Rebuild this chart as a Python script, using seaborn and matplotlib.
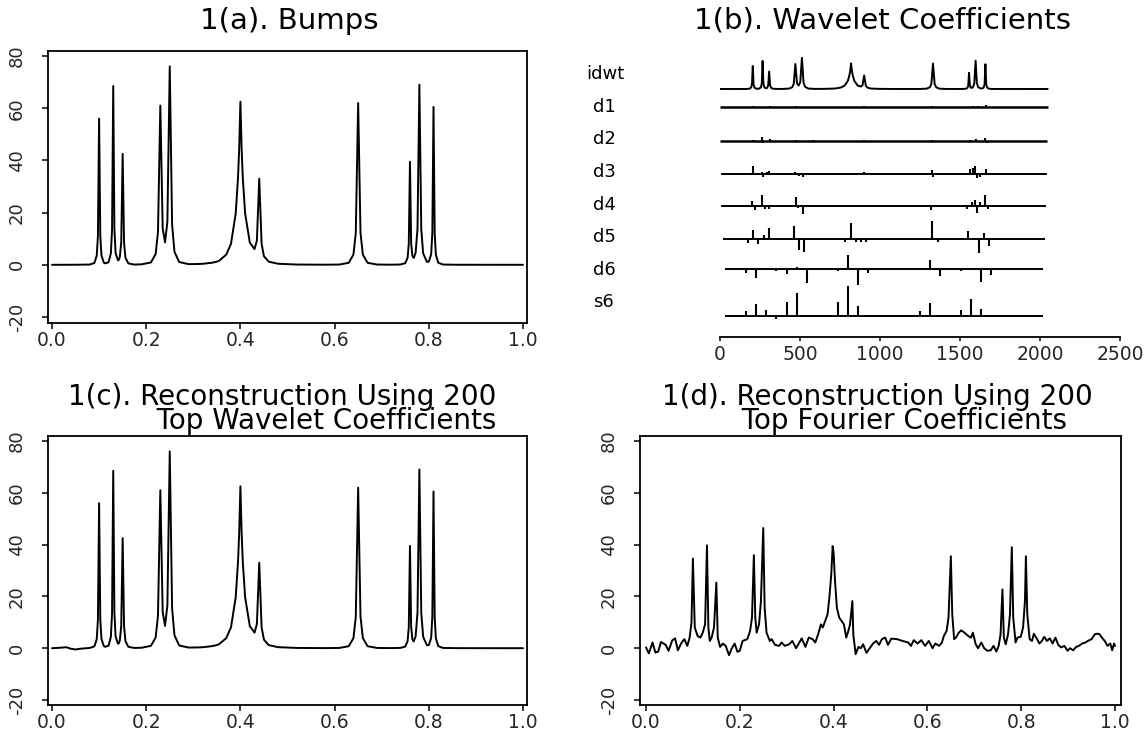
import numpy as np
import matplotlib
matplotlib.use("Agg")
import matplotlib.pyplot as plt
import seaborn as sns

# ---------------- data ----------------
# Bumps signal (panel a, and the idwt row of panel b)
bumps_x = [0.0, 0.05, 0.08, 0.09, 0.095, 0.0975, 0.10, 0.1025, 0.105, 0.11, 0.113,
           0.12, 0.125, 0.1275, 0.13, 0.1325, 0.135, 0.14, 0.142, 0.144, 0.147, 0.15,
           0.153, 0.156, 0.162, 0.174, 0.19, 0.21, 0.22, 0.225, 0.23, 0.235, 0.24,
           0.245, 0.25, 0.255, 0.26, 0.27, 0.29, 0.31, 0.32, 0.34, 0.35, 0.355, 0.37,
           0.38, 0.39, 0.395, 0.3975, 0.40, 0.4025, 0.405, 0.41, 0.42, 0.43, 0.435,
           0.44, 0.445, 0.45, 0.46, 0.48, 0.52, 0.58, 0.61, 0.63, 0.64, 0.645, 0.65,
           0.655, 0.66, 0.67, 0.69, 0.72, 0.74, 0.75, 0.755, 0.7575, 0.76, 0.7625,
           0.765, 0.768, 0.772, 0.776, 0.78, 0.784, 0.788, 0.796, 0.80, 0.805, 0.8075,
           0.81, 0.8125, 0.815, 0.82, 0.83, 0.86, 1.0]
bumps_y = [0.0, 0.02, 0.1, 0.7, 3.5, 11.1, 56.0, 11.1, 3.6, 0.8, 0.55,
           0.97, 4.35, 13.5, 68.5, 13.7, 4.6, 1.7, 1.95, 3.0, 8.6, 42.5,
           8.4, 2.7, 0.55, 0.1, 0.17, 0.9, 4.1, 12.5, 61.0, 14.0, 8.6,
           16.6, 76.0, 15.4, 5.0, 1.05, 0.25, 0.3, 0.38, 0.8, 1.2, 1.6, 3.9,
           8.05, 19.6, 33.5, 45.0, 62.5, 45.0, 33.6, 19.7, 8.5, 6.0, 9.3,
           33.0, 8.1, 3.3, 1.2, 0.4, 0.1, 0.04, 0.1, 0.77, 3.9, 12.2, 62.0,
           12.2, 3.9, 0.77, 0.1, 0.04, 0.12, 0.63, 2.7, 8.1, 39.5, 8.5,
           3.5, 2.6, 4.6, 13.7, 69.0, 13.65, 4.4, 1.14, 1.2, 4.0, 12.2,
           60.5, 12.0, 3.9, 0.8, 0.1, 0.02, 0.0]

# Wavelet reconstruction (panel c): differs from bumps only at the start
wrecon_start_x = [0.0, 0.02, 0.03, 0.04, 0.05, 0.06, 0.08]
wrecon_start_y = [0.0, 0.2, 0.4, -0.2, -0.5, -0.2, 0.1]

# Fourier reconstruction (panel d)
fourier_x = [0.0, 0.006, 0.014, 0.020, 0.026, 0.032, 0.042, 0.048, 0.056, 0.062, 0.068,
             0.076, 0.082, 0.088, 0.093, 0.097, 0.100, 0.104, 0.110, 0.116, 0.121, 0.126,
             0.130, 0.133, 0.136, 0.140, 0.145, 0.150, 0.153, 0.158, 0.164, 0.170, 0.177,
             0.182, 0.189, 0.195, 0.200, 0.206, 0.216, 0.222, 0.226, 0.230, 0.233, 0.236,
             0.241, 0.245, 0.250, 0.253, 0.257, 0.264, 0.268, 0.275, 0.284, 0.289, 0.296,
             0.305, 0.312, 0.320, 0.327, 0.332, 0.340, 0.347, 0.355, 0.361, 0.367, 0.373,
             0.377, 0.382, 0.387, 0.391, 0.395, 0.398, 0.400, 0.403, 0.407, 0.412, 0.417,
             0.422, 0.427, 0.431, 0.435, 0.440, 0.442, 0.447, 0.453, 0.458, 0.463, 0.470,
             0.477, 0.484, 0.491, 0.497, 0.503, 0.510, 0.516, 0.523, 0.535, 0.547, 0.559,
             0.565, 0.571, 0.579, 0.587, 0.595, 0.603, 0.611, 0.617, 0.625, 0.631, 0.635,
             0.641, 0.645, 0.650, 0.653, 0.657, 0.661, 0.667, 0.672, 0.679, 0.687, 0.693,
             0.697, 0.703, 0.708, 0.715, 0.721, 0.728, 0.735, 0.741, 0.747, 0.752, 0.756,
             0.760, 0.763, 0.767, 0.772, 0.776, 0.780, 0.783, 0.788, 0.792, 0.799, 0.804,
             0.808, 0.810, 0.813, 0.818, 0.823, 0.827, 0.832, 0.839, 0.844, 0.849, 0.855,
             0.861, 0.867, 0.873, 0.879, 0.885, 0.892, 0.899, 0.904, 0.911, 0.917, 0.923,
             0.930, 0.937, 0.942, 0.950, 0.957, 0.962, 0.967, 0.972, 0.978, 0.984, 0.990,
             0.994, 0.998, 1.000]
fourier_y = [0.3, -2.0, 2.2, -1.7, -1.3, 2.4, 1.3, -1.0, 3.0, 3.8, -0.8,
             2.2, 3.5, 0.9, 4.0, 10.0, 34.6, 8.0, 4.7, 4.1, 6.0, 9.2,
             39.7, 8.0, 2.8, 4.1, 8.0, 25.3, 4.1, 0.5, 1.8, 0.9, -2.7,
             -0.4, 1.8, -1.4, -1.0, 2.8, 3.5, 6.7, 11.8, 35.9, 11.8, 6.0,
             9.2, 18.0, 46.4, 15.6, 6.0, 2.8, 3.5, 1.3, 0.9, 2.2, 0.9,
             1.5, 2.8, 0.0, 2.2, 3.8, 0.5, 4.1, 3.5, 2.2, 5.4, 9.2,
             8.0, 10.5, 13.0, 19.5, 28.5, 39.4, 36.8, 26.0, 15.6, 11.8, 10.5,
             9.2, 4.1, 6.4, 9.2, 18.2, 5.4, -2.3, 0.5, 0.0, 1.5, -1.8,
             0.0, 1.8, 2.8, 1.3, 3.5, 4.1, 1.3, 3.7, 3.5, 2.8, 2.2,
             0.9, 3.1, 1.8, 3.1, 0.9, 2.8, 0.0, 1.8, 0.9, 2.2, 4.7,
             6.7, 11.8, 35.5, 13.0, 3.5, 4.1, 6.0, 6.9, 6.0, 4.7, 4.1,
             6.0, 1.5, 0.0, 2.2, 0.0, -1.0, -0.8, 0.9, -1.3, 0.9, 5.4,
             22.7, 4.1, 1.5, 5.4, 13.0, 39.0, 11.8, 2.2, 4.1, 4.4, 8.0,
             18.2, 35.5, 13.0, 3.5, 2.8, 5.6, 4.1, 1.8, 2.8, 4.4, 2.8,
             3.8, 1.8, 4.1, 1.3, 0.3, 0.9, -1.0, 0.0, -0.8, 0.5, 0.9,
             1.8, 2.2, 2.8, 3.5, 5.4, 5.6, 5.4, 4.1, 2.8, 0.9, 1.8,
             -0.8, 1.8, 0.9]

# Wavelet coefficients (panel b): positions (sample index) and values
d1_pos = [208, 312, 473, 900, 1327, 1583, 1615, 1660]
d1_val = [1.5, 1.0, 1.0, 0.8, 1.0, 0.8, 0.8, 1.8]
d2_pos = [208, 263, 271, 312, 473, 515, 580, 900, 1327, 1331, 1560, 1600, 1659, 1667]
d2_val = [1.2, 4.0, -2.0, 1.8, 1.5, -1.3, 0.6, 1.0, 1.5, -1.2, 0.8, 2.0, 3.5, -2.0]
d3_pos = [204, 220, 260, 268, 292, 308, 468, 492, 516, 820, 900, 1324, 1332, 1420,
          1540, 1564, 1580, 1596, 1604, 1628, 1660]
d3_val = [8.5, -1.3, 2.5, -3.0, 2.0, 3.5, 2.0, -1.5, -3.0, 1.3, 1.7, 4.0, -3.0, 0.5,
          1.0, 5.0, 6.0, 8.0, -4.0, -2.5, 5.0]
d4_pos = [200, 216, 264, 280, 304, 472, 488, 520, 824, 904, 1320, 1544, 1576, 1592,
          1608, 1624, 1656, 1672]
d4_val = [5.0, -4.0, 11.0, -3.0, -3.0, 9.0, -2.0, -8.0, 0.5, 1.5, -4.0, -3.0, 4.0, 6.0,
          -7.0, 4.0, 11.0, -3.0]
d5_pos = [176, 208, 240, 272, 304, 464, 496, 528, 560, 784, 816, 848, 880, 912, 1328,
          1360, 1552, 1616, 1648, 1680]
d5_val = [-4.0, 9.5, -5.0, 4.0, 11.0, 13.0, -11.0, -13.0, 1.0, -2.5, 16.0, -3.0, -3.0,
          -2.5, 18.0, -3.0, 8.0, -14.0, 6.0, -7.0]
d6_pos = [160, 224, 352, 416, 480, 544, 608, 672, 736, 800, 864, 928, 1312, 1376, 1440,
          1504, 1568, 1632, 1696, 1760]
d6_val = [-4.0, -9.0, -1.5, -5.0, 2.0, -14.0, 1.5, 1.0, -2.0, 14.0, -16.0, -4.0, 9.0,
          -7.0, 1.0, -2.0, 1.0, -13.0, -6.0, 0.5]
s6_pos = [160, 224, 288, 352, 416, 480, 544, 736, 800, 864, 928, 1248, 1312, 1376, 1440,
          1504, 1568, 1632, 1696, 1760]
s6_val = [5.0, 12.5, 6.5, -3.0, 14.0, 23.0, -0.5, 14.0, 30.0, 10.0, 0.7, 5.0, 13.0, 1.0,
          0.5, 6.0, 17.0, 7.0, 0.7, 0.5]

row_names = ["idwt", "d1", "d2", "d3", "d4", "d5", "d6", "s6"]
n_samples = 2048

x_ticks = [0.0, 0.2, 0.4, 0.6, 0.8, 1.0]
x_ticklabels = ["0.0", "0.2", "0.4", "0.6", "0.8", "1.0"]
y_ticks = [-20, 0, 20, 40, 60, 80]
y_ticklabels = ["-20", "0", "20", "40", "60", "80"]
b_ticks = [0, 500, 1000, 1500, 2000, 2500]
b_ticklabels = ["0", "500", "1000", "1500", "2000", "2500"]

titles = {
    "a": ["1(a). Bumps"],
    "b": ["1(b). Wavelet Coefficients"],
    "c": ["1(c). Reconstruction Using 200", "Top Wavelet Coefficients"],
    "d": ["1(d). Reconstruction Using 200", "Top Fourier Coefficients"],
}

# ---------------- layout ----------------
sns.set_theme(style="ticks")
plt.rcParams["font.family"] = ["DejaVu Sans"]
plt.rcParams["axes.linewidth"] = 1.2

W, H = 1146, 732
fig = plt.figure(figsize=(W / 100, H / 100), dpi=100)
fig.patch.set_facecolor("white")


def axes_px(l, t, r, b):
    return fig.add_axes([l / W, 1 - b / H, (r - l) / W, (b - t) / H])


def lim_px(box0, box1, px0, px1, v0, v1):
    s = (v1 - v0) / (px1 - px0)
    return v0 + (box0 - px0) * s, v0 + (box1 - px0) * s


TITLE_FS = 21
TITLE2_FS = 20
XT_FS = 13.5
YT_FS = 13


def style_panel(ax, box, xpx, ypx):
    l, t, r, b = box
    ax.set_xlim(*lim_px(l, r, xpx[0], xpx[1], 0.0, 1.0))
    ax.set_ylim(*lim_px(b, t, ypx[1], ypx[0], -20, 80))
    ax.set_xticks(x_ticks)
    ax.set_xticklabels(x_ticklabels, fontsize=XT_FS)
    ax.set_yticks(y_ticks)
    ax.set_yticklabels(y_ticklabels, fontsize=YT_FS, rotation=90, va="center")
    ax.tick_params(axis="both", direction="out", length=4, width=1.1, color="black")
    ax.tick_params(axis="x", pad=1.5)
    ax.tick_params(axis="y", pad=12)
    for sp in ax.spines.values():
        sp.set_visible(True)
        sp.set_color("black")
        sp.set_linewidth(1.3)
    ax.set_facecolor("white")
    ax.set_xlabel("")
    ax.set_ylabel("")


def draw_curve(ax, xs, ys):
    sns.lineplot(x=xs, y=ys, ax=ax, color="black", linewidth=1.4,
                 estimator=None, sort=False, legend=False)


def fig_text(xpx, ypx, s, **kw):
    fig.text(xpx / W, 1 - ypx / H, s, ha="center", va="center", color="black", **kw)


def two_line_title(x_left_px, y_px, lines, indent):
    # one text object, second line indented as in the original
    s = lines[0] + "\n" + " " * indent + lines[1]
    fig.text(x_left_px / W, 1 - y_px / H, s, ha="left", va="center",
             multialignment="left", linespacing=0.82, fontsize=TITLE2_FS,
             color="black")


# Panel (a)
box_a = (48, 51, 527, 323)
ax_a = axes_px(*box_a)
draw_curve(ax_a, bumps_x, bumps_y)
style_panel(ax_a, box_a, (52, 523), (56, 317))
fig_text(289, 21, titles["a"][0], fontsize=TITLE_FS)

# Panel (c)
box_c = (48, 436, 527, 705)
ax_c = axes_px(*box_c)
wx = wrecon_start_x + [x for x in bumps_x if x >= 0.09]
wy = wrecon_start_y + [y for x, y in zip(bumps_x, bumps_y) if x >= 0.09]
draw_curve(ax_c, wx, wy)
style_panel(ax_c, box_c, (52, 523), (441, 700))
two_line_title(68, 409, titles["c"], 10)

# Panel (d)
box_d = (640, 436, 1121, 705)
ax_d = axes_px(*box_d)
draw_curve(ax_d, fourier_x, fourier_y)
style_panel(ax_d, box_d, (646, 1115), (441, 700))
two_line_title(662, 409, titles["d"], 9)

# Panel (b): wavelet coefficients, one row per level (y in pixel-like units)
ax_b = axes_px(720, 45, 1120, 337)
ax_b.set_xlim(0, 2500)
ax_b.set_ylim(-337, -45)
row_base = {"idwt": 89, "d1": 107, "d2": 141, "d3": 174, "d4": 206,
            "d5": 239, "d6": 269, "s6": 316}
row_label_y = {"idwt": 74, "d1": 107, "d2": 139, "d3": 172, "d4": 205,
               "d5": 237, "d6": 270, "s6": 302}
idwt_scale = 0.41
draw_curve(ax_b, [x * n_samples for x in bumps_x],
           [-row_base["idwt"] + y * idwt_scale for y in bumps_y])
levels = {"d1": (1, d1_pos, d1_val), "d2": (2, d2_pos, d2_val),
          "d3": (3, d3_pos, d3_val), "d4": (4, d4_pos, d4_val),
          "d5": (5, d5_pos, d5_val), "d6": (6, d6_pos, d6_val),
          "s6": (6, s6_pos, s6_val)}
for name, (j, pos, val) in levels.items():
    base = -row_base[name]
    half = 2 ** (j - 1)
    ax_b.hlines(base, half, n_samples - half, color="black",
                linewidth=1.8 if j <= 2 else 1.4)
    ax_b.vlines(pos, base, [base + v for v in val], color="black", linewidth=1.5)
for sp in ["left", "right", "top"]:
    ax_b.spines[sp].set_visible(False)
ax_b.spines["bottom"].set_color("black")
ax_b.spines["bottom"].set_linewidth(1.3)
ax_b.set_yticks([])
ax_b.set_xticks(b_ticks)
ax_b.set_xticklabels(b_ticklabels, fontsize=XT_FS)
ax_b.tick_params(axis="x", direction="out", length=3, width=1.1, color="black", pad=3)
ax_b.set_facecolor("none")
ax_b.set_xlabel("")
ax_b.set_ylabel("")
for name in row_names:
    xl = 586 if name == "idwt" else 593
    fig.text(xl / W, 1 - row_label_y[name] / H, name, ha="left", va="center",
             fontsize=13, color="black")
fig_text(882, 21, titles["b"][0], fontsize=TITLE_FS)

fig.savefig("out.png", dpi=100, facecolor="white")
